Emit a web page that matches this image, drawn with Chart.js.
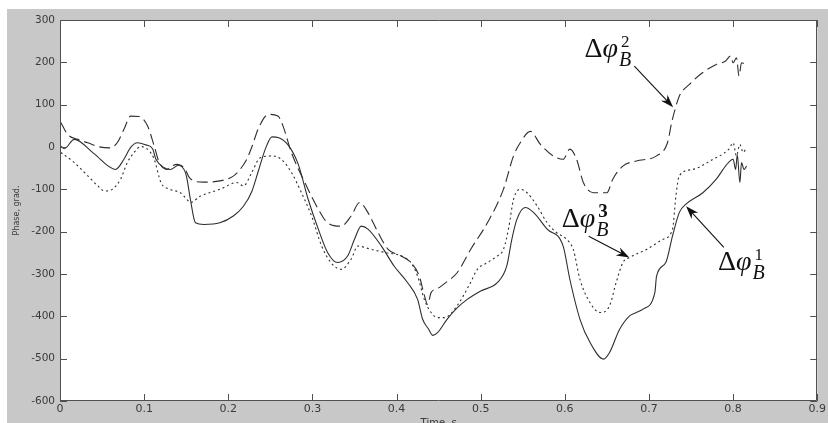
<!DOCTYPE html>
<html>
<head>
<meta charset="utf-8">
<script src="https://cdn.jsdelivr.net/npm/chart.js@4.4.1/dist/chart.umd.min.js"></script>
<style>
  html, body { margin: 0; padding: 0; background: #ffffff; }
  canvas { display: block; }
</style>
</head>
<body>
<canvas id="c" width="828" height="423"></canvas>
<script>
// ---- Data (time in s, phase in degrees) ----
// Δφ_B^1 (solid)
const phi1T = [0.001, 0.005, 0.017, 0.040, 0.066, 0.076, 0.084, 0.092, 0.102, 0.110,
               0.114, 0.124, 0.131, 0.141, 0.149, 0.151, 0.155, 0.161, 0.171, 0.190,
               0.206, 0.218, 0.228, 0.236, 0.244, 0.252, 0.260, 0.271, 0.283, 0.295,
               0.307, 0.318, 0.330, 0.342, 0.350, 0.358, 0.366, 0.382, 0.397, 0.413,
               0.425, 0.431, 0.438, 0.443, 0.449, 0.460, 0.472, 0.484, 0.500, 0.520,
               0.531, 0.537, 0.543, 0.553, 0.563, 0.579, 0.598, 0.606, 0.618, 0.630,
               0.646, 0.653, 0.665, 0.677, 0.685, 0.693, 0.707, 0.709, 0.720, 0.728,
               0.736, 0.744, 0.764, 0.780, 0.791, 0.800, 0.803, 0.805, 0.808, 0.810,
               0.813, 0.816];
const phi1V = [2, -4, 18, -15, -53, -29, -1, 10, 5, -4,
               -29, -49, -53, -43, -60, -76, -124, -179, -183, -179,
               -163, -140, -105, -55, -5, 24, 22, 5, -40, -124,
               -194, -249, -273, -257, -218, -187, -194, -234, -281, -320,
               -360, -407, -430, -445, -438, -407, -380, -360, -340, -320,
               -281, -218, -171, -143, -155, -194, -234, -313, -407, -462,
               -501, -486, -431, -399, -391, -383, -344, -305, -273, -210,
               -155, -135, -108, -76, -45, -29, -53, -18, -84, -37,
               -53, -45];
// Δφ_B^2 (dashed)
const phi2T = [0.001, 0.009, 0.021, 0.033, 0.045, 0.059, 0.068, 0.076, 0.084, 0.094,
               0.104, 0.112, 0.118, 0.127, 0.133, 0.139, 0.145, 0.149, 0.153, 0.159,
               0.171, 0.190, 0.205, 0.214, 0.222, 0.228, 0.236, 0.248, 0.259, 0.265,
               0.275, 0.291, 0.307, 0.318, 0.334, 0.346, 0.356, 0.366, 0.378, 0.390,
               0.405, 0.417, 0.427, 0.433, 0.437, 0.441, 0.449, 0.460, 0.472, 0.488,
               0.508, 0.527, 0.539, 0.547, 0.559, 0.571, 0.586, 0.598, 0.606, 0.614,
               0.622, 0.634, 0.650, 0.657, 0.669, 0.685, 0.709, 0.722, 0.727, 0.731,
               0.736, 0.748, 0.764, 0.780, 0.791, 0.797, 0.800, 0.804, 0.807, 0.810,
               0.815];
const phi2V = [58, 30, 18, 10, 1, -2, 10, 42, 73, 72,
               50, 2, -37, -53, -45, -41, -45, -53, -70, -80,
               -83, -80, -70, -53, -29, 0, 45, 77, 73, 50,
               -13, -84, -147, -179, -187, -163, -131, -155, -202, -242,
               -257, -273, -305, -350, -372, -344, -334, -318, -297, -242,
               -179, -100, -21, 10, 37, 6, -21, -29, -5, -29,
               -84, -108, -108, -76, -45, -33, -21, 10, 58, 89,
               120, 148, 176, 195, 203, 215, 199, 211, 168, 199,
               195];
// Δφ_B^3 (dotted)
const phi3T = [0.001, 0.017, 0.033, 0.045, 0.053, 0.062, 0.072, 0.080, 0.088, 0.096,
               0.106, 0.112, 0.120, 0.131, 0.143, 0.151, 0.155, 0.167, 0.190, 0.210,
               0.218, 0.228, 0.236, 0.244, 0.252, 0.263, 0.275, 0.287, 0.299, 0.311,
               0.322, 0.334, 0.346, 0.354, 0.370, 0.386, 0.405, 0.417, 0.425, 0.433,
               0.441, 0.449, 0.457, 0.472, 0.488, 0.496, 0.508, 0.520, 0.527, 0.533,
               0.539, 0.547, 0.555, 0.567, 0.579, 0.590, 0.602, 0.610, 0.618, 0.630,
               0.642, 0.653, 0.661, 0.669, 0.677, 0.697, 0.717, 0.728, 0.732, 0.736,
               0.752, 0.776, 0.795, 0.800, 0.804, 0.808, 0.812, 0.815];
const phi3V = [-13, -37, -68, -92, -104, -100, -76, -37, -13, 1,
               -9, -29, -84, -100, -108, -124, -131, -116, -100, -84,
               -92, -60, -29, -22, -21, -29, -60, -108, -163, -234,
               -273, -289, -265, -234, -242, -249, -257, -273, -305, -360,
               -391, -403, -403, -375, -320, -289, -273, -257, -242, -194,
               -124, -100, -108, -139, -179, -202, -218, -242, -313, -368,
               -391, -376, -320, -273, -261, -242, -218, -194, -116, -68,
               -53, -29, -5, 10, -21, 6, -13, -5];

// Axis ticks
const xTicks = [0, 0.1, 0.2, 0.3, 0.4, 0.5, 0.6, 0.7, 0.8, 0.9];
const yTicks = [300, 200, 100, 0, -100, -200, -300, -400, -500, -600];

// Annotation labels (superscript index) and anchors in data units
const annIndex = ['1', '2', '3'];
const annTextT = [0.7819, 0.6235, 0.5963];
const annTextV = [-291, 212, -190];
const annFromT = [0.7890, 0.6826, 0.6283];
const annFromV = [-237, 191, -211];
const annToT   = [0.7441, 0.7287, 0.6767];
const annToV   = [-140, 94, -261];

function pts(T, V) { return T.map((t, i) => ({ x: t, y: V[i] })); }

const LINE = '#2e2e2e';

const framePlugin = {
  id: 'frame',
  beforeDraw(chart) {
    const { ctx, chartArea: a } = chart;
    ctx.save();
    ctx.fillStyle = '#ffffff';
    ctx.fillRect(0, 0, chart.width, chart.height);
    ctx.fillStyle = '#c8c8c8';
    ctx.fillRect(7, 9, chart.width - 7, chart.height - 9);
    ctx.fillStyle = '#ffffff';
    ctx.fillRect(a.left, a.top, a.right - a.left, a.bottom - a.top);
    ctx.restore();
  },
  afterDraw(chart) {
    const { ctx, chartArea: a, scales } = chart;
    const tl = 7;
    ctx.save();
    ctx.strokeStyle = '#505050';
    ctx.lineWidth = 1;
    ctx.beginPath();
    ctx.rect(Math.round(a.left) + 0.5, Math.round(a.top) + 0.5,
             Math.round(a.right - a.left) - 1, Math.round(a.bottom - a.top) - 1);
    ctx.stroke();
    ctx.beginPath();
    scales.y.ticks.forEach(t => {
      const py = Math.round(scales.y.getPixelForValue(t.value)) + 0.5;
      ctx.moveTo(a.left, py); ctx.lineTo(a.left + tl, py);
      ctx.moveTo(a.right, py); ctx.lineTo(a.right - tl, py);
    });
    scales.x.ticks.forEach(t => {
      const px = Math.round(scales.x.getPixelForValue(t.value)) + 0.5;
      ctx.moveTo(px, a.bottom); ctx.lineTo(px, a.bottom - tl);
      ctx.moveTo(px, a.top); ctx.lineTo(px, a.top + tl);
    });
    ctx.stroke();

    // annotations
    const X = v => scales.x.getPixelForValue(v);
    const Y = v => scales.y.getPixelForValue(v);
    ctx.fillStyle = '#111';
    ctx.strokeStyle = '#111';
    for (let i = 0; i < annIndex.length; i++) {
      const x0 = X(annTextT[i]), y0 = Y(annTextV[i]);
      ctx.textBaseline = 'alphabetic';
      ctx.textAlign = 'left';
      ctx.font = '28px "Liberation Serif", "Times New Roman", serif';
      ctx.fillText('Δ', x0, y0);
      const wD = ctx.measureText('Δ').width;
      ctx.font = 'italic 28px "Liberation Serif", "Times New Roman", serif';
      ctx.fillText('φ', x0 + wD, y0);
      const wP = ctx.measureText('φ').width;
      const xe = x0 + wD + wP;
      ctx.font = 'italic 20px "Liberation Serif", "Times New Roman", serif';
      ctx.fillText('B', xe + 1, y0 + 9);
      ctx.font = (annIndex[i] === '3' ? 'bold 19px' : '17px') + ' "Liberation Serif", "Times New Roman", serif';
      ctx.fillText(annIndex[i], xe + 3, y0 - 10);

      // arrow
      const fx = X(annFromT[i]), fy = Y(annFromV[i]);
      const tx = X(annToT[i]), ty = Y(annToV[i]);
      const ang = Math.atan2(ty - fy, tx - fx);
      ctx.lineWidth = 1.1;
      ctx.beginPath();
      ctx.moveTo(fx, fy);
      ctx.lineTo(tx - 8 * Math.cos(ang), ty - 8 * Math.sin(ang));
      ctx.stroke();
      const L = 13, W = 4.5, N = 9;
      const ux = Math.cos(ang), uy = Math.sin(ang);
      const nx = -uy, ny = ux;
      ctx.beginPath();
      ctx.moveTo(tx, ty);
      ctx.lineTo(tx - L * ux + W * nx, ty - L * uy + W * ny);
      ctx.lineTo(tx - N * ux, ty - N * uy);
      ctx.lineTo(tx - L * ux - W * nx, ty - L * uy - W * ny);
      ctx.closePath();
      ctx.fill();
    }
    ctx.restore();
  }
};

Chart.defaults.font.family = '"DejaVu Sans", sans-serif';
Chart.defaults.color = '#3a3a3a';

new Chart(document.getElementById('c'), {
  type: 'scatter',
  data: {
    datasets: [
      { label: 'Δφ1', data: pts(phi1T, phi1V), showLine: true, borderColor: LINE,
        borderWidth: 1.1, pointRadius: 0, cubicInterpolationMode: 'monotone' },
      { label: 'Δφ2', data: pts(phi2T, phi2V), showLine: true, borderColor: LINE,
        borderWidth: 1.1, borderDash: [11, 5], pointRadius: 0, cubicInterpolationMode: 'monotone' },
      { label: 'Δφ3', data: pts(phi3T, phi3V), showLine: true, borderColor: LINE,
        borderWidth: 1.1, borderDash: [2, 3], pointRadius: 0, cubicInterpolationMode: 'monotone' }
    ]
  },
  options: {
    responsive: false,
    animation: false,
    devicePixelRatio: 1,
    layout: { padding: { left: 0, right: 6, top: 20, bottom: 0 }, autoPadding: false },
    plugins: { legend: { display: false }, tooltip: { enabled: false } },
    scales: {
      x: {
        type: 'linear', min: 0, max: 0.9,
        afterBuildTicks: s => { s.ticks = xTicks.map(v => ({ value: v })); },
        afterFit: s => { s.height = 22; },
        grid: { drawOnChartArea: false, drawTicks: false, color: 'rgba(0,0,0,0)' },
        border: { display: false },
        ticks: { font: { size: 11 }, padding: 2, autoSkip: false, maxRotation: 0,
                 callback: v => String(v) },
        title: { display: true, text: 'Time, s', font: { size: 10 }, padding: { top: 0, bottom: -6 } }
      },
      y: {
        type: 'linear', min: -600, max: 300,
        afterBuildTicks: s => { s.ticks = yTicks.map(v => ({ value: v })); },
        afterFit: s => { s.width = 60; },
        grid: { drawOnChartArea: false, drawTicks: false, color: 'rgba(0,0,0,0)' },
        border: { display: false },
        ticks: { font: { size: 10.5 }, padding: 5, autoSkip: false, callback: v => String(v) },
        title: { display: true, text: 'Phase, grad.', font: { size: 8 }, padding: { top: 12, bottom: 0 } }
      }
    }
  },
  plugins: [framePlugin]
});
</script>
</body>
</html>
